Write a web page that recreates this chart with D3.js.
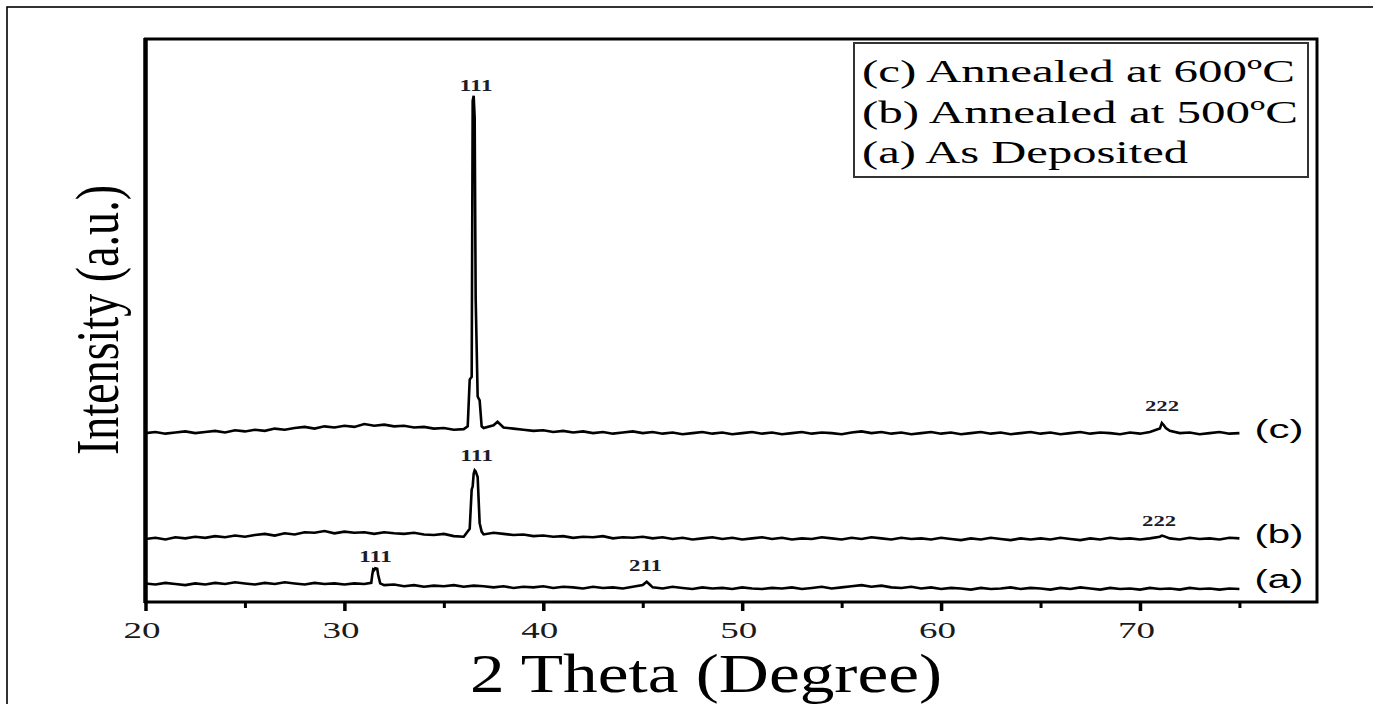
<!DOCTYPE html>
<html><head><meta charset="utf-8">
<script src="https://cdn.jsdelivr.net/npm/d3@7"></script>
<style>html,body{margin:0;padding:0;background:#fff;}svg{display:block;}</style>
</head><body>
<svg id="chart" width="1373" height="704"></svg>
<script>
// ---------------- DATA ----------------
// Base 2θ scan grid (degrees)
const thetaGrid = [
 20,20.5,21,21.5,22,22.5,23,23.5,24,24.5,
 25,25.5,26,26.5,27,27.5,28,28.5,29,29.5,
 30,30.5,31,31.5,32,32.5,33,33.5,34,34.5,
 35,35.5,36,36.5,37,37.5,38,38.5,39,39.5,
 40,40.5,41,41.5,42,42.5,43,43.5,44,44.5,
 45,45.5,46,46.5,47,47.5,48,48.5,49,49.5,
 50,50.5,51,51.5,52,52.5,53,53.5,54,54.5,
 55,55.5,56,56.5,57,57.5,58,58.5,59,59.5,
 60,60.5,61,61.5,62,62.5,63,63.5,64,64.5,
 65,65.5,66,66.5,67,67.5,68,68.5,69,69.5,
 70,70.5,71,71.5,72,72.5,73,73.5,74,74.5,
 75];

// (c) Annealed at 600ºC – intensity (a.u., offset trace)
const intensityC = [
 300,302,299,301,303,300,302,304,301,305,
 303,306,304,308,306,309,311,308,312,310,
 313,311,316,313,315,312,313,310,311,308,
 309,306,307,899,309,314,310,308,306,304,
 305,302,304,301,303,300,302,299,301,303,
 300,302,299,301,298,300,302,299,301,298,
 300,302,299,301,298,300,302,299,301,300,
 298,301,303,300,302,299,301,298,300,302,
 299,301,298,300,302,299,301,298,300,302,
 299,301,298,300,302,299,301,300,298,301,
 299,302,308,304,300,301,298,300,302,299,
 300];
const peakThetaC     = [36.2,36.3,36.4,36.45,36.55,36.6,36.7,36.8,36.9,37.7,71.1,71.2,71.3];
const peakIntensityC = [312, 395, 400, 890,  860,  540, 365, 358, 312, 320, 318, 314, 309];

// (b) Annealed at 500ºC
const intensityB = [
 112,114,111,115,113,116,114,117,115,118,
 116,119,121,118,122,120,124,123,126,122,
 125,123,124,121,124,122,121,123,120,119,
 121,117,116,228,120,123,121,119,120,117,
 118,116,117,114,116,115,117,113,115,114,
 116,113,115,112,114,111,113,115,112,114,
 111,113,115,112,114,111,113,112,115,113,
 111,114,112,115,113,111,114,112,113,111,
 114,112,110,113,111,114,112,110,113,111,
 113,111,114,112,110,113,111,114,112,113,
 111,113,116,113,111,114,112,113,111,114,
 113];
const peakThetaB     = [36.3,36.4,36.45,36.55,36.6,36.7,36.8,36.9,71.1,71.2];
const peakIntensityB = [130, 200, 205,  234,  232, 222, 140, 125, 118, 117];

// (a) As Deposited
const intensityA = [
 33,31,34,32,30,33,31,34,32,35,
 33,31,34,32,35,33,31,34,32,33,
 31,33,32,57,30,31,28,30,27,29,
 28,30,27,29,28,26,28,25,27,26,
 28,25,27,26,24,27,25,26,24,27,
 30,26,24,27,25,23,26,24,25,23,
 26,24,23,25,24,26,23,25,27,24,
 26,28,30,27,29,26,25,27,24,26,
 23,25,24,22,25,23,24,26,23,25,
 24,22,25,23,26,24,22,25,23,24,
 22,25,23,24,22,25,23,24,22,24,
 23];
const peakThetaA     = [31.35,31.4,31.45,31.55,31.65,31.7,31.8,45.2,45.35];
const peakIntensityA = [34,   48,  58,   60,   59,   48,  33,  36,  31];

const seriesNames   = ["(c)", "(b)", "(a)"];
const seriesLabelLevel = [291, 105, 25];
const legendLabels  = ["(c) Annealed at 600ºC", "(b) Annealed at 500ºC", "(a) As Deposited"];

// Reflection labels (hkl) : text, 2θ, intensity level
const hklText  = ["111", "111", "111", "211", "222", "222"];
const hklTheta = [36.62, 36.65, 31.56, 45.14, 71.11, 70.96];
const hklLevel = [907, 250, 71, 55, 339, 135];
const hklSmall = [false, false, false, false, true, true];

const xMajorTicks = [20, 30, 40, 50, 60, 70];
const xMinorTicks = [25, 35, 45, 55, 65, 75];
const xTitle = "2 Theta (Degree)";
const yTitle = "Intensity (a.u.)";

// ---------------- BUILD ----------------
function merge(grid, vals, pt, pv) {
  const pts = grid.map((t, i) => [t, vals[i]]).concat(pt.map((t, i) => [t, pv[i]]));
  pts.sort((a, b) => a[0] - b[0]);
  return pts;
}
const seriesData = [
  merge(thetaGrid, intensityC, peakThetaC, peakIntensityC),
  merge(thetaGrid, intensityB, peakThetaB, peakIntensityB),
  merge(thetaGrid, intensityA, peakThetaA, peakIntensityA)
];

const svg = d3.select("#chart");
const L = 145.5, R = 1317, T = 39, B = 602;
const x = d3.scaleLinear().domain([20, 78.9]).range([L, R]);
const y = d3.scaleLinear().domain([0, 1000]).range([B, T]);

// outer picture frame (extends past right/bottom edge)
svg.append("rect").attr("x", 7).attr("y", 7).attr("width", 1400).attr("height", 740)
  .attr("fill", "none").attr("stroke", "#000").attr("stroke-width", 1.6);

// traces
const line = d3.line().x(d => x(d[0])).y(d => y(d[1]));
svg.append("g").selectAll("path").data(seriesData).join("path")
  .attr("d", line).attr("fill", "none").attr("stroke", "#000")
  .attr("stroke-width", 2.6).attr("stroke-linejoin", "miter");

// axes
const gx = svg.append("g").attr("transform", `translate(0,${B})`)
  .call(d3.axisBottom(x).tickValues(xMajorTicks).tickSize(9).tickFormat(d3.format("d")));
gx.select(".domain").remove();
gx.selectAll(".tick line").attr("stroke", "#000").attr("stroke-width", 3.5);
gx.selectAll(".tick text").attr("y", 36).attr("dy", 0).attr("x", -4)
  .attr("font-family", "Liberation Serif, serif").attr("font-size", 24).attr("fill", "#1a1a1a")
  .attr("textLength", 37).attr("lengthAdjust", "spacingAndGlyphs");

const gm = svg.append("g").attr("transform", `translate(0,${B})`)
  .call(d3.axisBottom(x).tickValues(xMinorTicks).tickSize(6).tickFormat(""));
gm.select(".domain").remove();
gm.selectAll(".tick line").attr("stroke", "#000").attr("stroke-width", 3);

// plot frame
svg.append("rect").attr("x", L).attr("y", T).attr("width", R - L).attr("height", B - T)
  .attr("fill", "none").attr("stroke", "#000").attr("stroke-width", 3);
svg.append("line").attr("x1", L).attr("x2", L).attr("y1", T - 1).attr("y2", B + 1)
  .attr("stroke", "#000").attr("stroke-width", 4.5);

// axis titles
svg.append("text").attr("x", 470).attr("y", 692).text(xTitle)
  .attr("font-family", "Liberation Serif, serif").attr("font-size", 54)
  .attr("textLength", 472).attr("lengthAdjust", "spacingAndGlyphs").attr("fill", "#000");
svg.append("text").attr("transform", "translate(118,455) rotate(-90)").text(yTitle)
  .attr("font-family", "Liberation Serif, serif").attr("font-size", 62)
  .attr("textLength", 270).attr("lengthAdjust", "spacingAndGlyphs").attr("fill", "#000");

// series end labels
svg.append("g").selectAll("text").data(seriesNames).join("text")
  .attr("x", x(75) + 15).attr("y", (d, i) => y(seriesLabelLevel[i])).text(d => d)
  .attr("font-family", "Liberation Sans, Arial, sans-serif").attr("font-size", 25)
  .attr("textLength", 49).attr("lengthAdjust", "spacingAndGlyphs").attr("fill", "#000");

// hkl labels
svg.append("g").selectAll("text").data(hklText).join("text")
  .attr("x", (d, i) => x(hklTheta[i])).attr("y", (d, i) => y(hklLevel[i]))
  .attr("text-anchor", "middle").text(d => d)
  .attr("font-family", "Liberation Serif, serif").attr("font-weight", "bold")
  .attr("font-size", (d, i) => hklSmall[i] ? 14 : 17)
  .attr("textLength", (d, i) => hklSmall[i] ? 34 : 33).attr("lengthAdjust", "spacingAndGlyphs")
  .attr("fill", "#1b1b2a");

// legend
const lg = svg.append("g");
lg.append("rect").attr("x", 854).attr("y", 43).attr("width", 454).attr("height", 134)
  .attr("fill", "#fff").attr("stroke", "#333").attr("stroke-width", 2);
const legendLen = [433, 436, 326];
lg.selectAll("text").data(legendLabels).join("text")
  .attr("x", 862).attr("y", (d, i) => 82 + i * 40.5).text(d => d)
  .attr("font-family", "Liberation Serif, serif").attr("font-size", 32)
  .attr("textLength", (d, i) => legendLen[i]).attr("lengthAdjust", "spacingAndGlyphs")
  .attr("fill", "#000");
</script>
</body></html>
